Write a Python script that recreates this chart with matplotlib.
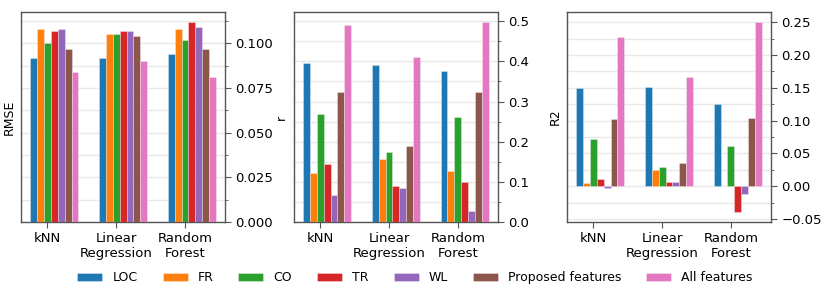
import numpy as np
import matplotlib
matplotlib.use("Agg")
import matplotlib.pyplot as plt
from matplotlib.ticker import AutoMinorLocator, MultipleLocator

models = ["kNN", "Linear\nRegression", "Random\nForest"]
feature_sets = ["LOC", "FR", "CO", "TR", "WL", "Proposed features", "All features"]
colors = ["#1f77b4", "#ff7f0e", "#2ca02c", "#d62728", "#9467bd", "#8c564b", "#e377c2"]

# rows: feature sets, columns: models (kNN, Linear Regression, Random Forest)
rmse_LOC = [0.092, 0.092, 0.094]
rmse_FR = [0.108, 0.105, 0.108]
rmse_CO = [0.100, 0.105, 0.102]
rmse_TR = [0.107, 0.107, 0.112]
rmse_WL = [0.108, 0.107, 0.109]
rmse_PROP = [0.097, 0.104, 0.097]
rmse_ALL = [0.084, 0.090, 0.081]

r_LOC = [0.395, 0.391, 0.375]
r_FR = [0.122, 0.158, 0.127]
r_CO = [0.269, 0.174, 0.262]
r_TR = [0.145, 0.090, 0.100]
r_WL = [0.068, 0.085, 0.027]
r_PROP = [0.324, 0.189, 0.324]
r_ALL = [0.490, 0.411, 0.498]

r2_LOC = [0.149, 0.151, 0.126]
r2_FR = [0.0045, 0.025, 0.0]
r2_CO = [0.072, 0.029, 0.0615]
r2_TR = [0.011, 0.007, -0.040]
r2_WL = [-0.002, 0.006, -0.0117]
r2_PROP = [0.102, 0.035, 0.104]
r2_ALL = [0.228, 0.167, 0.251]

metrics = [
    ("RMSE", [rmse_LOC, rmse_FR, rmse_CO, rmse_TR, rmse_WL, rmse_PROP, rmse_ALL], "{x:.3f}", 0.025),
    ("r", [r_LOC, r_FR, r_CO, r_TR, r_WL, r_PROP, r_ALL], "{x:.1f}", 0.1),
    ("R2", [r2_LOC, r2_FR, r2_CO, r2_TR, r2_WL, r2_PROP, r2_ALL], "{x:.2f}", 0.05),
]

plt.rcParams["font.family"] = ["DejaVu Sans"]
plt.rcParams["font.size"] = 9

fig = plt.figure(figsize=(8.3, 2.96), dpi=100)
lefts = [0.0253, 0.354, 0.683]
width_ax = 0.246
bottom, top = 0.25, 0.9595

x = np.arange(len(models))
bw = 0.1
spine_col = "#555555"
handles = []
for i, (name, series, fmt, step) in enumerate(metrics):
    ax = fig.add_axes([lefts[i], bottom, width_ax, top - bottom])
    for k, vals in enumerate(series):
        b = ax.bar(x + (k - 2) * bw, vals, width=bw, color=colors[k],
                   edgecolor=(1, 1, 1, 0.45), linewidth=0.5, label=feature_sets[k], zorder=3)
        if i == 0:
            handles.append(b)
    ax.set_xticks(x)
    ax.set_xticklabels(models)
    ax.yaxis.tick_right()
    ax.yaxis.set_major_locator(MultipleLocator(step))
    ax.yaxis.set_minor_locator(AutoMinorLocator(2))
    ax.yaxis.set_major_formatter(fmt)
    ax.grid(axis="y", which="both", color="#e8e8e8", linewidth=1.0, zorder=0)
    ax.set_axisbelow(True)
    ax.set_ylabel(name)
    for s in ax.spines.values():
        s.set_color(spine_col)
        s.set_linewidth(1.0)
    ax.tick_params(axis="both", which="major", length=4, color=spine_col, labelsize=9.5)
    ax.tick_params(axis="y", which="minor", length=2, color=spine_col)
    if name == "r":
        ax.set_ylim(0, 0.523)

fig.legend(handles, feature_sets, loc="center", bbox_to_anchor=(0.5, 0.061),
           ncol=7, frameon=False, fontsize=9)

fig.savefig("out.png", dpi=100)
